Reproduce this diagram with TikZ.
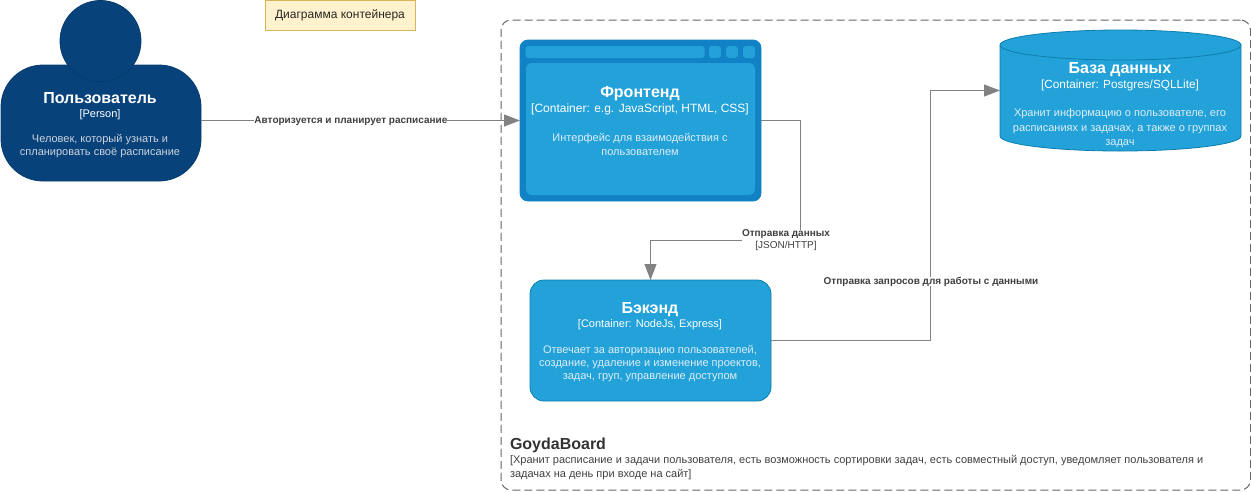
\documentclass[tikz,border=0pt]{standalone}
\usepackage{fontspec}
\setmainfont{Liberation Sans}
\usetikzlibrary{arrows.meta,calc}
\definecolor{persondark}{HTML}{08427B}
\definecolor{personedge}{HTML}{073B6F}
\definecolor{contblue}{HTML}{23A2D9}
\definecolor{contedge}{HTML}{0E7DAD}
\definecolor{webblue}{HTML}{1282C6}
\definecolor{wire}{HTML}{828282}
\definecolor{labelgrey}{HTML}{404040}
\definecolor{framegrey}{HTML}{666666}
\definecolor{notefill}{HTML}{FFF2CC}
\definecolor{noteedge}{HTML}{D6B656}
\definecolor{descperson}{HTML}{CCD3DE}
\definecolor{desccont}{HTML}{DDEEF7}
\tikzset{
  x=1pt,y=-1pt,
  every node/.style={inner sep=0pt,outer sep=0pt},
  shapebox/.style={draw,rectangle,anchor=center,line width=0.8pt},
  titletext/.style={anchor=base,text=white,font=\fontsize{16}{18}\selectfont\bfseries},
  techtext/.style={anchor=base,text=white,font=\fontsize{12}{14}\selectfont},
  desctext/.style={anchor=center,align=center,font=\fontsize{11}{14.3}\selectfont},
  desctight/.style={desctext,font=\fontsize{11}{13}\selectfont},
  wireline/.style={draw=wire,line width=0.9pt},
  wirearrow/.style={wireline,-{Triangle[length=16pt,width=12pt,fill=wire,color=wire]}},
  wirelabel/.style={fill=white,text=labelgrey,align=center,font=\fontsize{10}{12}\selectfont},
}
\begin{document}
\begin{tikzpicture}
\useasboundingbox (0,0) rectangle (1251,491);
% frame
\node[shapebox,draw=framegrey,dash pattern=on 8pt off 4pt,rounded corners=10pt,minimum width=749.5pt,minimum height=470pt,line width=1pt] (frame) at (875.75,255) {};
\node[anchor=base west,text=black!80,font=\fontsize{16}{18}\selectfont\bfseries] (frametitle) at (510,449) {GoydaBoard};
\node[anchor=north west,align=left,text=black!75,font=\fontsize{11}{14}\selectfont] (framedesc) at (510,455.5) {[Хранит расписание и задачи пользователя, есть возможность сортировки задач, есть совместный доступ, уведомляет пользователя и\\задачах на день при входе на сайт]};
% note
\node[shapebox,fill=notefill,draw=noteedge,minimum width=150pt,minimum height=30pt,font=\fontsize{12}{14}\selectfont,text=black!85] (note) at (340,15) {Диаграмма контейнера};
% person
\node[shapebox,fill=persondark,draw=personedge,rounded corners=42pt,minimum width=200pt,minimum height=116pt] (body) at (101,123) {};
\node[circle,draw=personedge,fill=persondark,line width=0.8pt,minimum size=81pt] (head) at (100.5,41) {};
\node[titletext] (ptitle) at (100,103) {Пользователь};
\node[techtext,font=\fontsize{11}{14}\selectfont] (ptech) at (100,117) {[Person]};
\node[desctight,text=descperson] (pdesc) at (100,146) {Человек, который узнать и\\спланировать своё расписание};
% frontend
\node[shapebox,fill=webblue,draw=webblue,rounded corners=8pt,minimum width=241pt,minimum height=161pt] (front) at (640.5,120.5) {};
\node[rectangle,fill=contblue,rounded corners=3pt,minimum width=179pt,minimum height=12pt] (fbar) at (615,52) {};
\node[rectangle,fill=contblue,rounded corners=3pt,minimum size=12pt] (fbtna) at (715,52) {};
\node[rectangle,fill=contblue,rounded corners=3pt,minimum size=12pt] (fbtnb) at (732,52) {};
\node[rectangle,fill=contblue,rounded corners=3pt,minimum size=12pt] (fbtnc) at (749,52) {};
\node[rectangle,fill=contblue,rounded corners=6pt,minimum width=229pt,minimum height=132pt] (fpane) at (640.5,129) {};
\node[titletext] (ftitle) at (640,97) {Фронтенд};
\node[techtext] (ftech) at (640,112) {[Container: e.g. JavaScript, HTML, CSS]};
\node[desctext,text=desccont] (fdesc) at (640,144.3) {Интерфейс для взаимодействия с\\пользователем};
% backend
\node[shapebox,fill=contblue,draw=contedge,rounded corners=14pt,minimum width=241pt,minimum height=121pt] (back) at (650.5,340.5) {};
\node[titletext] (btitle) at (650,313) {Бэкэнд};
\node[techtext,font=\fontsize{11}{14}\selectfont] (btech) at (650,327) {[Container: NodeJs, Express]};
\node[desctight,text=desccont] (bdesc) at (650,363.7) {Отвечает за авторизацию пользователей,\\создание, удаление и изменение проектов,\\задач, груп, управление доступом};
% database
\node[rectangle,minimum width=241pt,minimum height=120pt] (db) at (1120.5,90.5) {};
\draw[draw=contedge,fill=contblue,line width=0.8pt] (1000,45) arc[start angle=180,end angle=0,x radius=120.5pt,y radius=15pt] -- (1241,136) arc[start angle=0,end angle=-180,x radius=120.5pt,y radius=15pt] -- cycle;
\draw[draw=contedge,line width=0.8pt] (1000,45) arc[start angle=180,end angle=360,x radius=120.5pt,y radius=15pt];
\node[titletext] (dtitle) at (1120,73) {База данных};
\node[techtext,font=\fontsize{11.8}{14}\selectfont] (dtech) at (1120,88) {[Container: Postgres/SQLLite]};
\node[desctext,text=desccont] (ddesc) at (1120,128.3) {Хранит информацию о пользователе, его\\расписаниях и задачах, а также о группах\\задач};
% connectors
\draw[wirearrow] (body.east |- front.west) -- (front.west) node[pos=0.47,yshift=-1pt,wirelabel,font=\fontsize{10}{12}\selectfont\bfseries] (l1) {Авторизуется и планирует расписание};
\coordinate (c1) at (800.5,120.5);
\coordinate (c2) at (800.5,240);
\coordinate (c3) at (650.5,240);
\draw[wirearrow] (front.east) -- (c1) -- (c2) -- (c3) -- (back.north);
\node[wirelabel] (l2) at (786,240.5) {\textbf{Отправка данных}\\{}[JSON/HTTP]};
\coordinate (c4) at (930.5,340.5);
\coordinate (c5) at (930.5,90.5);
\draw[wirearrow] (back.east) -- (c4) -- (c5) -- (db.west);
\node[wirelabel,font=\fontsize{10}{12}\selectfont\bfseries] (l3) at (931,281.5) {Отправка запросов для работы с данными};
\end{tikzpicture}
\end{document}
